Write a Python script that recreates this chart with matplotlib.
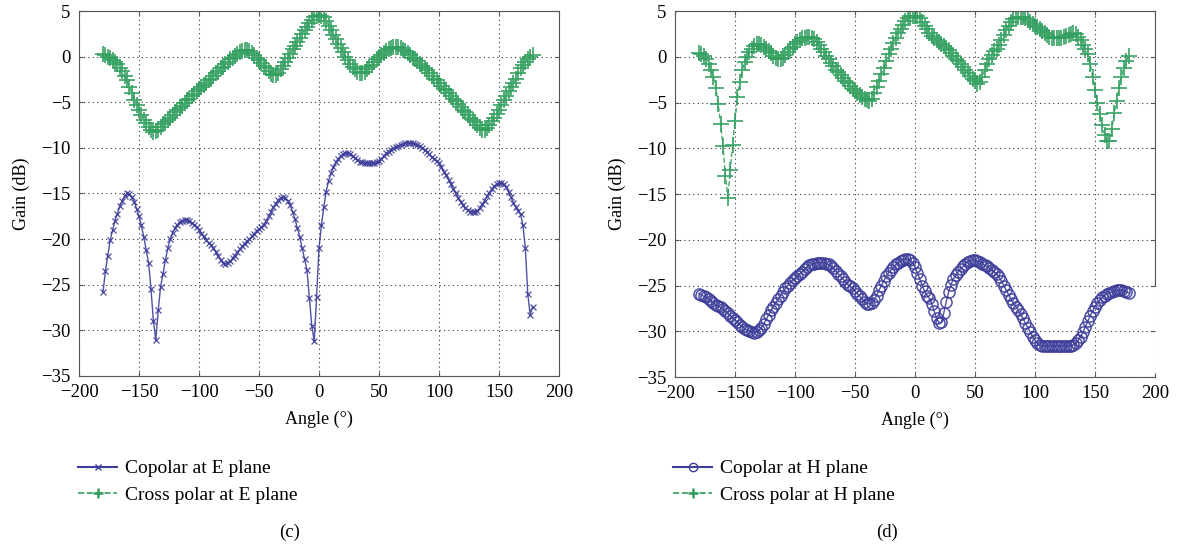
import numpy as np
import matplotlib.pyplot as plt
from matplotlib.lines import Line2D

# angles in degrees, 2 degree step
angle = np.arange(-180, 180, 2)

cross_e = [
    0.3, 0.2, 0.0, -0.2, -0.4, -0.6, -0.8, -1.2, -1.6, -2.1,
    -2.6, -3.3, -4.0, -4.7, -5.3, -5.9, -6.4, -6.9, -7.3, -7.7,
    -8.0, -8.3, -8.2, -8.0, -7.7, -7.4, -7.2, -6.9, -6.7, -6.4,
    -6.1, -5.9, -5.6, -5.4, -5.1, -4.8, -4.6, -4.3, -4.1, -3.8,
    -3.6, -3.3, -3.1, -2.9, -2.6, -2.4, -2.1, -1.8, -1.6, -1.3,
    -1.1, -0.8, -0.6, -0.3, -0.1, 0.1, 0.3, 0.5, 0.6, 0.7,
    0.7, 0.6, 0.4, 0.2, -0.1, -0.4, -0.7, -1.0, -1.3, -1.6,
    -1.9, -2.0, -2.0, -1.8, -1.4, -1.0, -0.6, -0.1, 0.3, 0.8,
    1.2, 1.6, 2.0, 2.5, 2.9, 3.3, 3.7, 4.0, 4.3, 4.5,
    4.6, 4.5, 4.3, 3.9, 3.4, 2.9, 2.4, 1.9, 1.4, 0.9,
    0.5, 0.0, -0.4, -0.8, -1.1, -1.4, -1.7, -1.8, -1.8, -1.7,
    -1.4, -1.1, -0.9, -0.6, -0.3, 0.0, 0.2, 0.4, 0.6, 0.8,
    0.9, 1.0, 1.0, 1.0, 0.9, 0.7, 0.6, 0.4, 0.2, -0.1,
    -0.3, -0.5, -0.8, -1.0, -1.3, -1.5, -1.8, -2.1, -2.4, -2.6,
    -2.9, -3.2, -3.5, -3.7, -4.0, -4.3, -4.6, -4.9, -5.2, -5.5,
    -5.8, -6.1, -6.4, -6.7, -7.0, -7.2, -7.5, -7.8, -8.0, -8.0,
    -7.8, -7.5, -7.1, -6.7, -6.3, -5.8, -5.3, -4.8, -4.3, -3.8,
    -3.3, -2.9, -2.4, -1.8, -1.3, -0.9, -0.6, -0.3, 0.0, 0.2,
]

copol_e = [
    -25.8, -23.5, -21.8, -20.1, -19.0, -18.0, -17.2, -16.4, -15.8, -15.3,
    -15.0, -15.1, -15.4, -15.9, -16.7, -17.5, -18.5, -19.8, -21.2, -22.6,
    -25.5, -29.0, -31.1, -27.8, -25.2, -23.8, -22.3, -21.0, -20.0, -19.3,
    -18.8, -18.4, -18.1, -18.0, -17.9, -17.9, -18.0, -18.2, -18.4, -18.7,
    -19.0, -19.4, -19.7, -20.1, -20.4, -20.7, -21.0, -21.4, -21.9, -22.3,
    -22.6, -22.7, -22.6, -22.4, -22.1, -21.8, -21.4, -21.1, -20.8, -20.5,
    -20.2, -20.0, -19.7, -19.4, -19.1, -18.9, -18.7, -18.4, -18.0, -17.5,
    -17.0, -16.5, -16.1, -15.7, -15.5, -15.4, -15.5, -15.8, -16.3, -17.0,
    -17.8, -18.8, -19.8, -21.0, -22.2, -23.4, -26.5, -29.5, -31.2, -26.3,
    -21.0, -18.5, -16.5, -14.8, -13.6, -12.8, -12.1, -11.6, -11.2, -10.9,
    -10.7, -10.6, -10.6, -10.7, -10.9, -11.1, -11.3, -11.5, -11.6, -11.7,
    -11.7, -11.7, -11.7, -11.7, -11.6, -11.4, -11.2, -10.9, -10.6, -10.4,
    -10.2, -10.0, -9.9, -9.8, -9.7, -9.6, -9.5, -9.5, -9.5, -9.5,
    -9.6, -9.7, -9.8, -10.0, -10.2, -10.4, -10.7, -11.0, -11.2, -11.4,
    -11.7, -12.1, -12.6, -13.0, -13.5, -14.0, -14.5, -15.0, -15.5, -15.9,
    -16.3, -16.6, -16.8, -17.0, -17.0, -17.0, -16.9, -16.6, -16.2, -15.8,
    -15.3, -14.9, -14.5, -14.2, -14.0, -13.9, -13.9, -14.0, -14.3, -14.8,
    -15.4, -16.0, -16.5, -16.9, -17.3, -18.5, -21.0, -26.0, -28.3, -27.4,
]

cross_h = [
    0.4, 0.3, 0.1, -0.3, -0.8, -1.4, -2.2, -3.4, -5.2, -7.3,
    -9.8, -13.0, -15.4, -12.4, -9.6, -7.0, -4.4, -2.8, -1.5, -0.6,
    0.0, 0.5, 0.9, 1.2, 1.4, 1.4, 1.3, 1.1, 0.9, 0.6,
    0.4, 0.1, -0.1, -0.2, -0.2, -0.1, 0.2, 0.5, 0.8, 1.1,
    1.4, 1.6, 1.8, 2.0, 2.1, 2.2, 2.2, 2.1, 1.9, 1.6,
    1.3, 0.9, 0.5, 0.1, -0.3, -0.7, -1.0, -1.4, -1.7, -2.0,
    -2.3, -2.6, -2.9, -3.2, -3.5, -3.7, -4.0, -4.2, -4.4, -4.6,
    -4.7, -4.8, -4.6, -4.0, -3.3, -2.6, -1.9, -1.2, -0.5, 0.3,
    0.9, 1.5, 2.1, 2.6, 3.0, 3.5, 3.9, 4.2, 4.4, 4.5,
    4.5, 4.4, 4.2, 3.8, 3.4, 3.0, 2.6, 2.3, 2.0, 1.8,
    1.6, 1.4, 1.2, 1.0, 0.7, 0.4, 0.1, -0.2, -0.5, -0.8,
    -1.1, -1.4, -1.8, -2.1, -2.4, -2.7, -3.0, -2.8, -2.2, -1.5,
    -0.8, -0.3, 0.2, 0.6, 0.9, 1.3, 1.8, 2.4, 2.9, 3.4,
    3.8, 4.1, 4.2, 4.3, 4.3, 4.3, 4.2, 4.0, 3.8, 3.6,
    3.4, 3.2, 3.0, 2.8, 2.6, 2.4, 2.2, 2.1, 2.0, 2.0,
    2.0, 2.1, 2.2, 2.3, 2.4, 2.5, 2.6, 2.5, 2.2, 1.8,
    1.3, 0.9, 0.3, -0.8, -2.2, -3.6, -5.0, -6.3, -7.5, -8.5,
    -9.2, -9.2, -7.9, -6.2, -4.8, -3.4, -2.2, -1.2, -0.5, 0.1,
]

copol_h = [
    -25.9, -26.0, -26.2, -26.3, -26.5, -26.7, -26.9, -27.1, -27.2, -27.4,
    -27.6, -27.8, -28.0, -28.3, -28.5, -28.8, -29.0, -29.3, -29.5, -29.7,
    -29.9, -30.0, -30.1, -30.2, -30.1, -29.9, -29.6, -29.2, -28.7, -28.2,
    -27.7, -27.3, -26.9, -26.5, -26.1, -25.7, -25.3, -25.0, -24.7, -24.4,
    -24.2, -24.0, -23.7, -23.5, -23.2, -23.0, -22.8, -22.7, -22.6, -22.5,
    -22.5, -22.5, -22.5, -22.6, -22.7, -22.9, -23.1, -23.4, -23.7, -24.0,
    -24.3, -24.6, -24.9, -25.1, -25.3, -25.6, -25.9, -26.2, -26.5, -26.8,
    -27.0, -27.0, -26.9, -26.6, -26.1, -25.5, -25.0, -24.5, -24.0, -23.6,
    -23.3, -23.0, -22.7, -22.5, -22.3, -22.2, -22.1, -22.1, -22.2, -22.5,
    -23.0, -23.6, -24.3, -25.0, -25.6, -26.1, -26.4, -27.0, -27.8, -28.6,
    -29.1, -29.0, -28.0, -26.8, -25.7, -24.9, -24.3, -23.9, -23.5, -23.2,
    -22.9, -22.6, -22.4, -22.3, -22.2, -22.2, -22.3, -22.4, -22.6, -22.8,
    -22.9, -23.1, -23.3, -23.5, -23.7, -24.1, -24.5, -25.0, -25.5, -26.0,
    -26.5, -26.9, -27.3, -27.7, -28.1, -28.6, -29.1, -29.6, -30.1, -30.6,
    -31.0, -31.3, -31.5, -31.6, -31.6, -31.6, -31.6, -31.6, -31.6, -31.6,
    -31.6, -31.6, -31.6, -31.6, -31.6, -31.6, -31.5, -31.3, -31.0, -30.6,
    -30.1, -29.5, -28.9, -28.3, -27.8, -27.3, -26.9, -26.6, -26.3, -26.1,
    -25.9, -25.8, -25.7, -25.6, -25.5, -25.5, -25.5, -25.6, -25.7, -25.8,
]

blue = '#3d3d9a'
green = '#33a060'

plt.rcParams['font.family'] = ['Liberation Serif', 'DejaVu Serif']
plt.rcParams['font.size'] = 13

fig = plt.figure(figsize=(11.83, 5.5), dpi=100)
ax1 = fig.add_axes([0.0668, 0.3164, 0.4057, 0.6636])
ax2 = fig.add_axes([0.5706, 0.3145, 0.4057, 0.6655])


def style_axes(ax):
    ax.set_xlim(-200, 200)
    ax.set_ylim(-35, 5)
    ax.set_xticks(np.arange(-200, 201, 50))
    ax.set_yticks(np.arange(-35, 6, 5))
    ax.grid(True, linestyle=(0, (1, 3)), color='#333333', linewidth=0.8)
    ax.tick_params(direction='in', top=True, right=True, length=3, color='#555555',
                   labelsize=13.5, pad=6)
    for sp in ax.spines.values():
        sp.set_color('#555555')
        sp.set_linewidth(0.8)
    ax.set_xlabel('Angle (°)', fontsize=13)
    ax.set_ylabel('Gain (dB)', fontsize=13)
    ax.xaxis.set_label_coords(0.5, -0.095)
    ax.yaxis.set_label_coords(-0.103, 0.5)


ax1.plot(angle, copol_e, color=blue, marker='x', markersize=5, mew=0.9, lw=1, alpha=0.9)
ax1.plot(angle, cross_e, color=green, ls='--', marker='+', markersize=11, mew=1.3, lw=1, alpha=0.9)
style_axes(ax1)

ax2.plot(angle, copol_h, color=blue, marker='o', markersize=8, mfc='none', mew=1.1, lw=1, alpha=0.9)
ax2.plot(angle, cross_h, color=green, ls='--', marker='+', markersize=11, mew=1.3, lw=1, alpha=0.9)
style_axes(ax2)
ax2.spines['right'].set_bounds(-25, 5)

h_e = [Line2D([], [], color=blue, marker='x', markersize=5, lw=1.5),
       Line2D([], [], color=green, ls='--', marker='+', markersize=7, mew=1.8, lw=1.2)]
h_h = [Line2D([], [], color=blue, marker='o', markersize=6, mfc='none', lw=1.5),
       Line2D([], [], color=green, ls='--', marker='+', markersize=7, mew=1.8, lw=1.2)]

fig.legend(h_e, ['Copolar at E plane', 'Cross polar at E plane'], loc='upper left',
           bbox_to_anchor=(0.066, 0.164), frameon=False, fontsize=14,
           handlelength=2.0, handletextpad=0.4, labelspacing=0.45, borderaxespad=0,
           borderpad=0)
fig.legend(h_h, ['Copolar at H plane', 'Cross polar at H plane'], loc='upper left',
           bbox_to_anchor=(0.569, 0.164), frameon=False, fontsize=14,
           handlelength=2.0, handletextpad=0.4, labelspacing=0.45, borderaxespad=0,
           borderpad=0)

fig.text(290 / 1183, 1 - 532 / 550, '(c)', ha='center', va='center', fontsize=13.5)
fig.text(887 / 1183, 1 - 532 / 550, '(d)', ha='center', va='center', fontsize=13.5)

fig.savefig('out.png', dpi=100)
plt.close(fig)
